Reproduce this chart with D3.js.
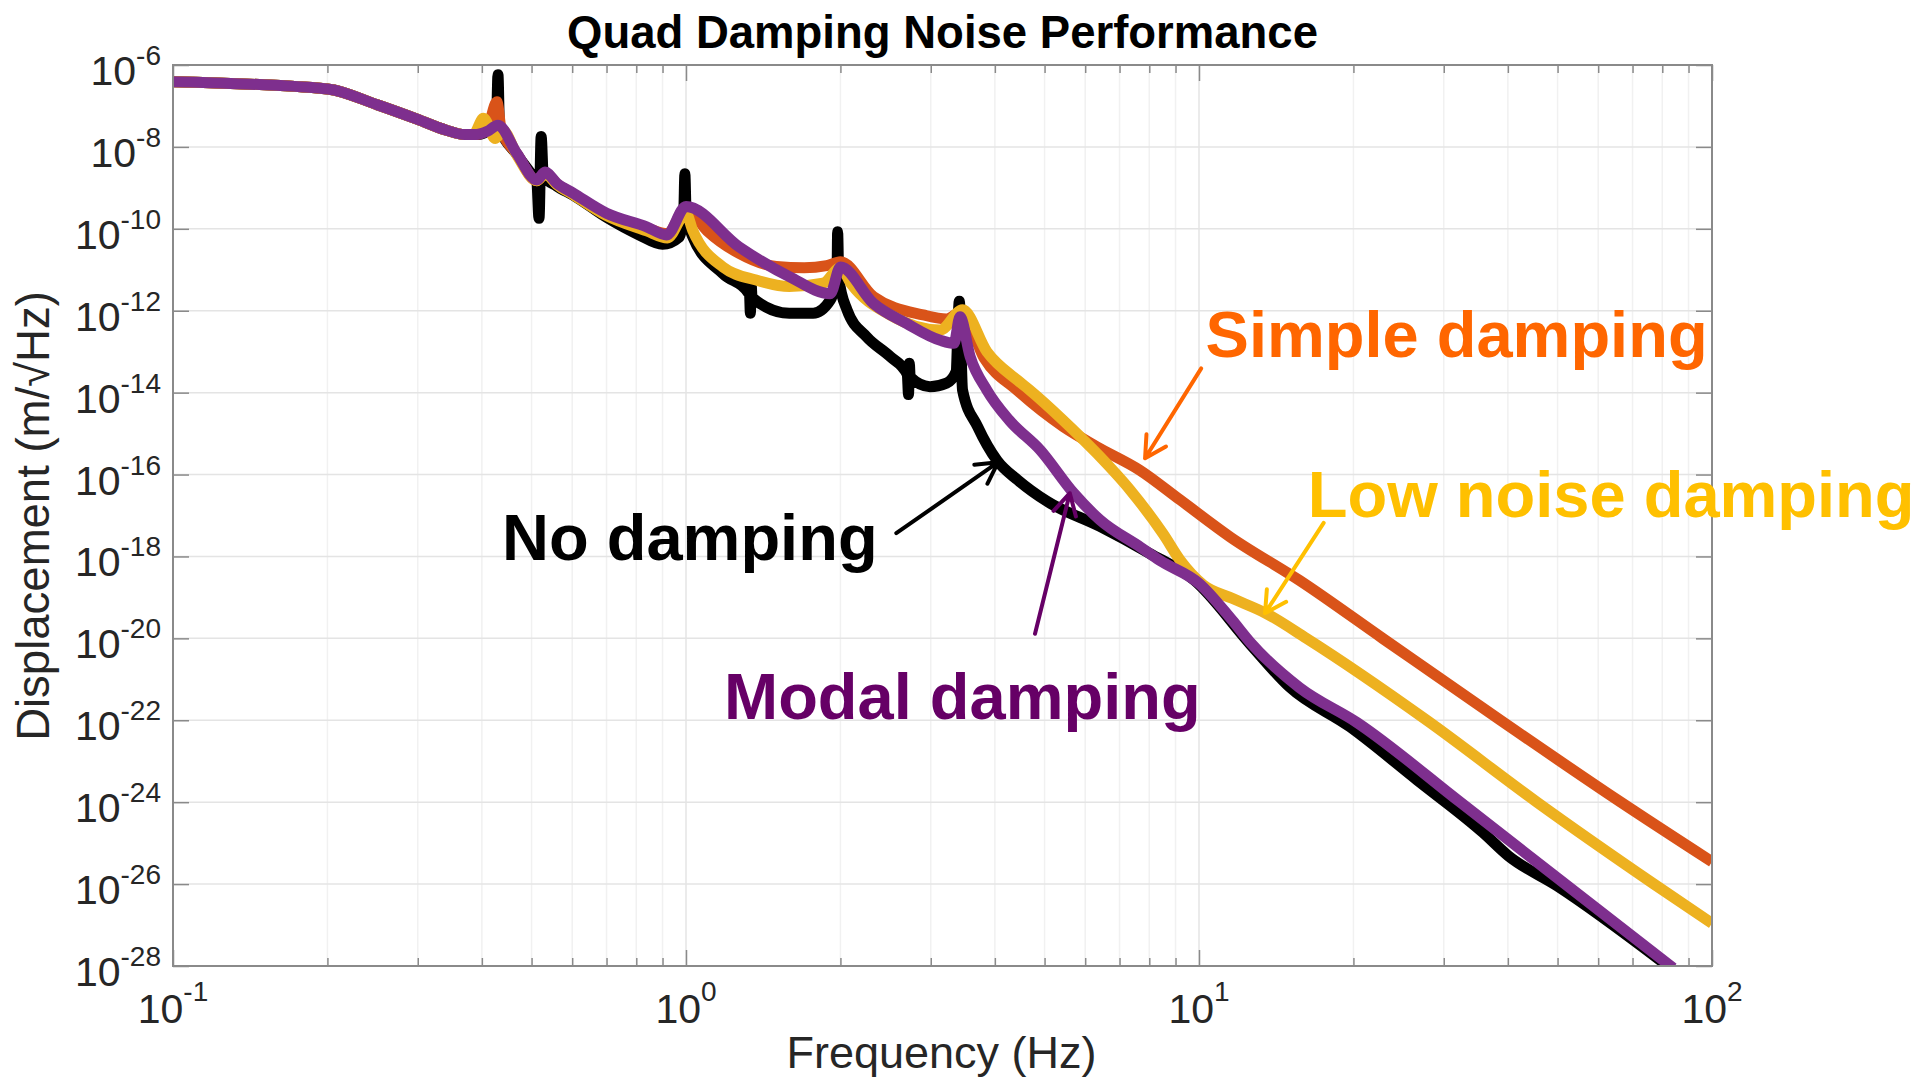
<!DOCTYPE html>
<html>
<head>
<meta charset="utf-8">
<title>Quad Damping Noise Performance</title>
<script src="https://cdn.jsdelivr.net/npm/d3@7"></script>
<style>
    body { margin: 0; background: #fff; }
    #chart { width: 1927px; height: 1079px; }
    text { font-family: "Liberation Sans", Arial, Helvetica, sans-serif; }
</style>
</head>
<body>
<div id="chart"></div>
<script>
// values: frequency (Hz) and displacement (m/rtHz)
const noDampFreq = [0.1, 0.2, 0.25, 0.3, 0.34, 0.37, 0.39, 0.41, 0.427, 0.43, 0.433, 0.468, 0.505, 0.512, 0.517, 0.522, 0.527, 0.56, 0.603, 0.7, 0.81, 0.9, 0.97, 0.99, 0.995, 1.0, 1.03, 1.18, 1.33, 1.335, 1.34, 1.345, 1.59, 1.77, 1.91, 1.97, 1.975, 1.985, 2.06, 2.25, 2.5, 2.7, 2.715, 2.725, 2.735, 2.99, 3.22, 3.36, 3.41, 3.46, 3.7, 4.04, 4.43, 5.06, 6.41, 8.0, 9.8, 12.6, 15.0, 19.7, 26.6, 35.8, 40, 50, 82];
const noDamp = [3.9e-7, 2.6e-7, 1.07e-7, 4.7e-8, 2.6e-8, 2.0e-8, 2.0e-8, 2.4e-8, 3.5e-8, 5.8e-7, 3.2e-8, 6.6e-9, 1.8e-9, 1.4e-9, 1.8e-10, 1.8e-8, 2.0e-9, 1.1e-9, 6.6e-10, 1.9e-10, 7.1e-11, 4.2e-11, 6.3e-11, 2.5e-10, 2.2e-9, 3.2e-10, 6.5e-11, 8.1e-12, 2.5e-12, 8.7e-13, 4.3e-12, 2.1e-12, 8.7e-13, 8.7e-13, 1.8e-12, 1.0e-11, 8.5e-11, 6.3e-12, 1.05e-12, 2.3e-13, 7.6e-14, 2.8e-14, 9.0e-15, 5.2e-14, 2.4e-14, 1.4e-14, 1.7e-14, 3.2e-14, 1.7e-12, 1.15e-14, 1.5e-15, 2.2e-16, 7.4e-17, 2.2e-17, 5.4e-18, 1.2e-18, 2.6e-19, 7.1e-21, 6.6e-22, 6.9e-23, 3.5e-24, 1.8e-25, 5.0e-26, 8.9e-27, 1.0e-28];

const simpleFreq = [0.1, 0.2, 0.25, 0.3, 0.34, 0.37, 0.39, 0.41, 0.428, 0.436, 0.468, 0.512, 0.531, 0.56, 0.603, 0.7, 0.838, 0.92, 1.0, 1.1, 1.27, 1.5, 1.7, 1.88, 2.0, 2.32, 2.9, 3.22, 3.45, 3.81, 4.43, 5.44, 6.32, 7.66, 9.19, 11.5, 15.7, 22.8, 38.7, 66.4, 100];
const simple = [3.9e-7, 2.6e-7, 1.07e-7, 4.7e-8, 2.6e-8, 2.0e-8, 2.0e-8, 2.8e-8, 1.26e-7, 2.8e-8, 6.8e-9, 1.5e-9, 2.3e-9, 1.26e-9, 7.1e-10, 2.2e-10, 1.05e-10, 7.6e-11, 3.2e-10, 8.9e-11, 2.5e-11, 1.2e-11, 1.12e-11, 1.26e-11, 1.58e-11, 2.2e-12, 7.9e-13, 6.3e-13, 9.5e-13, 7.1e-14, 1.12e-14, 1.48e-15, 4.8e-16, 1.29e-16, 2.4e-17, 3.0e-18, 2.6e-19, 1.0e-20, 1.0e-22, 1.0e-24, 3.5e-26];

const lowNoiseFreq = [0.1, 0.2, 0.25, 0.3, 0.34, 0.37, 0.385, 0.403, 0.425, 0.44, 0.468, 0.512, 0.531, 0.56, 0.603, 0.7, 0.838, 0.92, 1.0, 1.03, 1.18, 1.37, 1.59, 1.85, 2.0, 2.1, 2.5, 3.13, 3.46, 3.86, 4.43, 4.68, 5.44, 6.32, 7.34, 8.52, 9.2, 10.2, 11.6, 13.5, 16.2, 27.8, 45.6, 77.1, 100];
const lowNoise = [3.9e-7, 2.6e-7, 1.07e-7, 4.7e-8, 2.6e-8, 2.0e-8, 2.0e-8, 5.0e-8, 1.6e-8, 2.5e-8, 6.3e-9, 1.5e-9, 2.2e-9, 1.2e-9, 6.8e-10, 2.1e-10, 8.9e-11, 6.0e-11, 2.4e-10, 9.3e-11, 1.17e-11, 5.6e-12, 3.9e-12, 4.7e-12, 1.12e-11, 4.5e-12, 7.9e-13, 3.4e-13, 1.05e-12, 1.0e-13, 2.0e-14, 1.15e-14, 2.1e-15, 3.3e-16, 4.2e-17, 3.5e-18, 7.9e-19, 2.0e-19, 9.5e-20, 4.1e-20, 1.0e-20, 1.0e-22, 1.0e-24, 1.0e-26, 1.1e-27];

const modalFreq = [0.1, 0.2, 0.25, 0.3, 0.34, 0.37, 0.39, 0.41, 0.43, 0.468, 0.512, 0.531, 0.56, 0.603, 0.7, 0.838, 0.917, 1.0, 1.27, 1.59, 1.91, 2.0, 2.32, 2.69, 3.13, 3.33, 3.42, 3.58, 3.86, 4.27, 4.9, 5.7, 6.41, 7.68, 8.4, 10.0, 11.6, 12.6, 15.7, 20.3, 32.3, 50, 84];
const modal = [3.9e-7, 2.6e-7, 1.07e-7, 4.7e-8, 2.6e-8, 2.0e-8, 2.0e-8, 2.4e-8, 3.4e-8, 6.9e-9, 1.55e-9, 2.45e-9, 1.3e-9, 7.4e-10, 2.4e-10, 1.12e-10, 7.1e-11, 3.5e-10, 3.6e-11, 6.8e-12, 2.6e-12, 1.17e-11, 1.5e-12, 4.9e-13, 1.9e-13, 1.6e-13, 7.1e-13, 7.6e-14, 1.15e-14, 2.1e-15, 4.0e-16, 3.5e-17, 7.8e-18, 1.7e-18, 7.9e-19, 2.2e-19, 2.8e-20, 7.9e-21, 6.3e-22, 8.9e-23, 1.0e-24, 1.4e-26, 8.9e-29];

const seriesNames = ["No damping", "Simple damping", "Low noise damping", "Modal damping"];
const xTickPowers = [-1, 0, 1, 2];
const yTickPowers = [-6, -8, -10, -12, -14, -16, -18, -20, -22, -24, -26, -28];

class QuadNoisePlot {
    constructor(parentElement, series, notes) {
        this.parentElement = parentElement;
        this.series = series;
        this.notes = notes;
        this.initVis()
    }

    initVis() {
        let vis = this;

        vis.margin = {top: 65, right: 215, bottom: 113, left: 173};
        vis.width = 1927 - vis.margin.left - vis.margin.right;
        vis.height = 1079 - vis.margin.top - vis.margin.bottom;

        vis.svg = d3.select("#" + vis.parentElement).append("svg")
            .attr("width", 1927)
            .attr("height", 1079);

        vis.g = vis.svg.append("g")
            .attr("transform", `translate(${vis.margin.left}, ${vis.margin.top})`);

        vis.x = d3.scaleLog().domain([0.1, 100]).range([0, vis.width]);
        vis.y = d3.scaleLog().domain([1e-28, 1e-6]).range([vis.height, 0]);

        vis.svg.append("defs").append("clipPath")
            .attr("id", "plotClip")
            .append("rect")
            .attr("width", vis.width)
            .attr("height", vis.height);

        vis.wrangleData()
    }

    wrangleData() {
        let vis = this;
        vis.lineData = vis.series.map(s => ({
            name: s.name,
            color: s.color,
            points: s.freq.map((f, i) => ({f: f, v: s.values[i]}))
        }));
        vis.updateVis();
    }

    updateVis() {
        let vis = this;
        let x = vis.x, y = vis.y;

        let isMajor = d => Math.abs(Math.log10(d) - Math.round(Math.log10(d))) < 1e-9;
        let allX = x.ticks();
        let minorX = allX.filter(d => !isMajor(d));
        let majorX = xTickPowers.map(p => Math.pow(10, p));
        let majorY = yTickPowers.map(p => Math.pow(10, p));

        // grid
        vis.g.append("g").selectAll(".xMinorGrid")
            .data(minorX)
            .enter().append("line")
            .attr("class", "xMinorGrid")
            .attr("x1", d => x(d)).attr("x2", d => x(d))
            .attr("y1", 0).attr("y2", vis.height)
            .attr("stroke", "#f1f1f1")
            .attr("stroke-width", 1.5);

        vis.g.append("g").selectAll(".xMajorGrid")
            .data(majorX)
            .enter().append("line")
            .attr("class", "xMajorGrid")
            .attr("x1", d => x(d)).attr("x2", d => x(d))
            .attr("y1", 0).attr("y2", vis.height)
            .attr("stroke", "#e4e4e4")
            .attr("stroke-width", 1.5);

        vis.g.append("g").selectAll(".yGrid")
            .data(majorY)
            .enter().append("line")
            .attr("class", "yGrid")
            .attr("x1", 0).attr("x2", vis.width)
            .attr("y1", d => y(d)).attr("y2", d => y(d))
            .attr("stroke", "#e4e4e4")
            .attr("stroke-width", 1.5);

        // ticks, pointing inward on all four sides
        let tickColor = "#8a8a8a";
        let addAxis = function (axis, tx, ty) {
            let a = vis.g.append("g")
                .attr("transform", `translate(${tx}, ${ty})`)
                .call(axis);
            a.select(".domain").remove();
            a.selectAll("line").attr("stroke", tickColor).attr("stroke-width", 1.5);
            a.selectAll("text").remove();
        }
        addAxis(d3.axisBottom(x).tickValues(minorX).tickSize(-8).tickFormat(""), 0, vis.height);
        addAxis(d3.axisBottom(x).tickValues(majorX).tickSize(-16).tickFormat(""), 0, vis.height);
        addAxis(d3.axisTop(x).tickValues(minorX).tickSize(-8).tickFormat(""), 0, 0);
        addAxis(d3.axisTop(x).tickValues(majorX).tickSize(-16).tickFormat(""), 0, 0);
        addAxis(d3.axisLeft(y).tickValues(majorY).tickSize(-16).tickFormat(""), 0, 0);
        addAxis(d3.axisRight(y).tickValues(majorY).tickSize(-16).tickFormat(""), vis.width, 0);

        // tick labels as 10^n
        let yLab = vis.g.append("g").selectAll(".yLabel")
            .data(yTickPowers)
            .enter().append("text")
            .attr("class", "yLabel")
            .attr("x", -12)
            .attr("y", d => y(Math.pow(10, d)) + 20)
            .attr("text-anchor", "end")
            .attr("fill", "#262626")
            .style("font-size", "41px");
        yLab.append("tspan").text("10");
        yLab.append("tspan").attr("dy", -20).style("font-size", "28px").text(d => d);

        let xLab = vis.g.append("g").selectAll(".xLabel")
            .data(xTickPowers)
            .enter().append("text")
            .attr("class", "xLabel")
            .attr("x", d => x(Math.pow(10, d)))
            .attr("y", vis.height + 57)
            .attr("text-anchor", "middle")
            .attr("fill", "#262626")
            .style("font-size", "41px");
        xLab.append("tspan").text("10");
        xLab.append("tspan").attr("dy", -22).style("font-size", "28px").text(d => d);

        // data lines
        let line = d3.line()
            .curve(d3.curveMonotoneX)
            .x(d => x(d.f))
            .y(d => y(d.v));

        vis.g.append("g")
            .attr("clip-path", "url(#plotClip)")
            .selectAll(".curve")
            .data(vis.lineData)
            .enter().append("path")
            .attr("class", "curve")
            .attr("d", d => line(d.points))
            .attr("fill", "none")
            .attr("stroke", d => d.color)
            .attr("stroke-width", 11)
            .attr("stroke-linejoin", "round");

        // box
        vis.g.append("rect")
            .attr("width", vis.width)
            .attr("height", vis.height)
            .attr("fill", "none")
            .attr("stroke", tickColor)
            .attr("stroke-width", 2);

        // title and axis labels
        vis.svg.append("text")
            .attr("x", vis.margin.left + vis.width / 2)
            .attr("y", 48)
            .attr("text-anchor", "middle")
            .attr("fill", "#000")
            .style("font-size", "45.5px")
            .style("font-weight", "bold")
            .text("Quad Damping Noise Performance");

        vis.svg.append("text")
            .attr("x", vis.margin.left + vis.width / 2 - 1)
            .attr("y", 1068)
            .attr("text-anchor", "middle")
            .attr("fill", "#262626")
            .style("font-size", "45px")
            .text("Frequency (Hz)");

        vis.svg.append("text")
            .attr("transform", `translate(49, 516) rotate(-90)`)
            .attr("text-anchor", "middle")
            .attr("fill", "#262626")
            .style("font-size", "45.5px")
            .text("Displacement (m/\u221AHz)");

        // annotations with arrows
        vis.notes.forEach(function (n) {
            let x0 = x(n.tail[0]), y0 = y(n.tail[1]);
            let x1 = x(n.tip[0]), y1 = y(n.tip[1]);
            let a = Math.atan2(y1 - y0, x1 - x0);
            let len = 24, spread = 0.5;
            let h1 = [x1 - len * Math.cos(a - spread), y1 - len * Math.sin(a - spread)];
            let h2 = [x1 - len * Math.cos(a + spread), y1 - len * Math.sin(a + spread)];
            vis.g.append("path")
                .attr("d", `M${x0},${y0}L${x1},${y1}M${h1[0]},${h1[1]}L${x1},${y1}L${h2[0]},${h2[1]}`)
                .attr("fill", "none")
                .attr("stroke", n.color)
                .attr("stroke-width", 4)
                .attr("stroke-linecap", "round")
                .attr("stroke-linejoin", "round");

            vis.g.append("text")
                .attr("x", x(n.at[0]))
                .attr("y", y(n.at[1]))
                .attr("fill", n.color)
                .style("font-size", "65px")
                .style("font-weight", "bold")
                .text(n.label);
        })
    }
}

let series = [
    {name: seriesNames[0], color: "#000000", freq: noDampFreq, values: noDamp},
    {name: seriesNames[1], color: "#D95319", freq: simpleFreq, values: simple},
    {name: seriesNames[2], color: "#EDB120", freq: lowNoiseFreq, values: lowNoise},
    {name: seriesNames[3], color: "#7E2F8E", freq: modalFreq, values: modal}
];

// label anchor and arrow placed in data units (Hz, m/rtHz)
let notes = [
    {label: seriesNames[1], color: "#FF6600", at: [10.3, 7.4e-14], tail: [10.1, 3.9e-14], tip: [7.85, 2.5e-16]},
    {label: seriesNames[2], color: "#FFC000", at: [16.3, 9.3e-18], tail: [17.5, 6.6e-18], tip: [13.45, 4.1e-20]},
    {label: seriesNames[0], color: "#000000", at: [0.438, 8.1e-19], tail: [2.57, 3.7e-18], tip: [4.06, 2.0e-16]},
    {label: seriesNames[3], color: "#660066", at: [1.186, 1.1e-22], tail: [4.79, 1.3e-20], tip: [5.6, 3.5e-17]}
];

new QuadNoisePlot("chart", series, notes);
</script>
</body>
</html>
